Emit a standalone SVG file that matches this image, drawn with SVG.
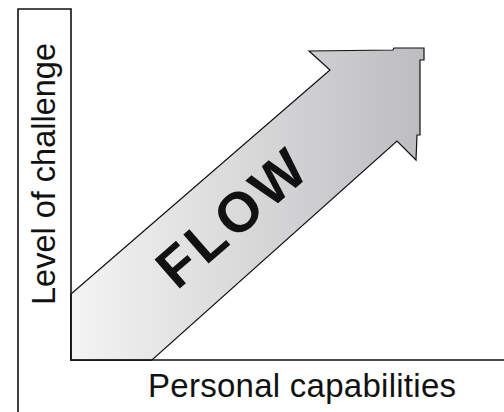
<svg xmlns="http://www.w3.org/2000/svg" width="504" height="412" viewBox="0 0 504 412">
<style>
.ax{fill:none;stroke:#111;stroke-width:1.6}
.lbl{font-family:"Liberation Sans",Arial,sans-serif;fill:#111}
</style>
<defs>
<linearGradient id="g" x1="71" y1="0" x2="424" y2="0" gradientUnits="userSpaceOnUse">
<stop offset="0" stop-color="#f4f4f4"/>
<stop offset="1" stop-color="#bdbdc0"/>
</linearGradient>
</defs>
<rect width="504" height="412" fill="#fff"/>
<g id="frame">
<path class="ax" d="M18,412 V9 H71 V360 H504"/>
</g>
<g id="arrow">
<path d="M71,294 L330,70 L309,51 L393,50 L394,48 L424,48 L424,60 L420,60 L420,135 L417,135 L416,160 L397,141 L152,360 L71,360 Z" fill="url(#g)" stroke="#111" stroke-width="1.2" stroke-linejoin="miter"/>
<path d="M71,294 V360 H152" fill="none" stroke="#111" stroke-width="1.6"/>
<text class="lbl" x="0" y="0" font-size="56" font-weight="bold" letter-spacing="4" transform="translate(177,291) rotate(-41)">FLOW</text>
</g>
<g id="ylabel">
<text class="lbl" font-size="32.5" text-anchor="middle" transform="translate(55,174) rotate(-90)">Level of challenge</text>
</g>
<g id="xlabel">
<text class="lbl" x="302" y="397" font-size="33" text-anchor="middle" textLength="308" lengthAdjust="spacing">Personal capabilities</text>
</g>
</svg>
